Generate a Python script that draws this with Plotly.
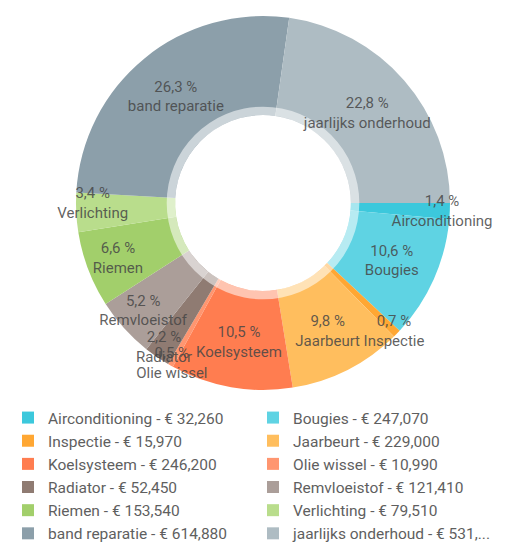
import plotly.graph_objects as go

categories = ["Airconditioning", "Bougies", "Inspectie", "Jaarbeurt", "Koelsysteem",
              "Olie wissel", "Radiator", "Remvloeistof", "Riemen", "Verlichting",
              "band reparatie", "jaarlijks onderhoud"]
values = [32260, 247070, 15970, 229000, 246200, 10990, 52450, 121410, 153540, 79510,
          614880, 531420]
colors = ["#3CC8DC", "#5FD3E3", "#FFA733", "#FFBE5E", "#FF7D50", "#FF9670",
          "#8F7B72", "#AB9E99", "#A2CF6B", "#B9DD8C", "#8C9FAA", "#AEBCC3"]

total = sum(values)
slice_text = [f"{v / total * 100:.1f}".replace(".", ",") + f" %<br>{c}"
              for c, v in zip(categories, values)]


def legend_label(name, val):
    s = f"{name} - € {val:,}"
    return s if len(s) <= 30 else s[:28] + "..."


legend_labels = [legend_label(c, v) for c, v in zip(categories, values)]

W, H = 506, 545
mt, mb = 5, 0
ph = H - mt - mb
cx, cy = 255, 195          # pixel centre of donut (from top)
R = 187                    # outer radius px
HOLE = 0.47
ring_out = 0.515 * R
ring_in = HOLE * R


def py(p):
    return (H - p - mb) / ph


main_domain = dict(x=[(cx - R) / W, (cx + R) / W], y=[py(cy + R), py(cy - R)])

fig = go.Figure()
# coloured slices (legend source)
fig.add_trace(go.Pie(
    labels=legend_labels,
    values=values,
    textinfo="none",
    hole=HOLE,
    sort=False,
    direction="clockwise",
    rotation=90,
    marker=dict(colors=colors, line=dict(width=0)),
    domain=main_domain,
    hoverinfo="label+percent",
))
# soft inner ring over the slices
fig.add_trace(go.Pie(
    labels=["ring"],
    values=[1],
    hole=ring_in / ring_out,
    sort=False,
    showlegend=False,
    textinfo="none",
    hoverinfo="skip",
    marker=dict(colors=["rgba(255,255,255,0.55)"], line=dict(width=0)),
    domain=dict(x=[(cx - ring_out) / W, (cx + ring_out) / W],
                y=[py(cy + ring_out), py(cy - ring_out)]),
))
# slice labels on top so overlapping texts stay visible
fig.add_trace(go.Pie(
    labels=categories,
    values=values,
    text=slice_text,
    textinfo="text",
    textposition="inside",
    insidetextorientation="horizontal",
    hole=HOLE,
    sort=False,
    direction="clockwise",
    rotation=90,
    showlegend=False,
    hoverinfo="skip",
    marker=dict(colors=["rgba(0,0,0,0)"] * len(values), line=dict(width=0)),
    textfont=dict(family="Roboto", size=15, color="rgba(70,70,70,0.85)"),
    domain=main_domain,
))

fig.update_layout(
    width=W, height=H,
    margin=dict(l=0, r=0, t=mt, b=mb),
    paper_bgcolor="white",
    plot_bgcolor="white",
    uniformtext=dict(minsize=15, mode="show"),
    legend=dict(
        orientation="h",
        entrywidth=200,
        entrywidthmode="pixels",
        x=0, xanchor="left",
        y=py(393), yanchor="top",
        font=dict(family="Roboto", size=15.5, color="#5f5f5f"),
        itemclick=False,
        tracegroupgap=0,
    ),
)

fig.write_html("out.html")
